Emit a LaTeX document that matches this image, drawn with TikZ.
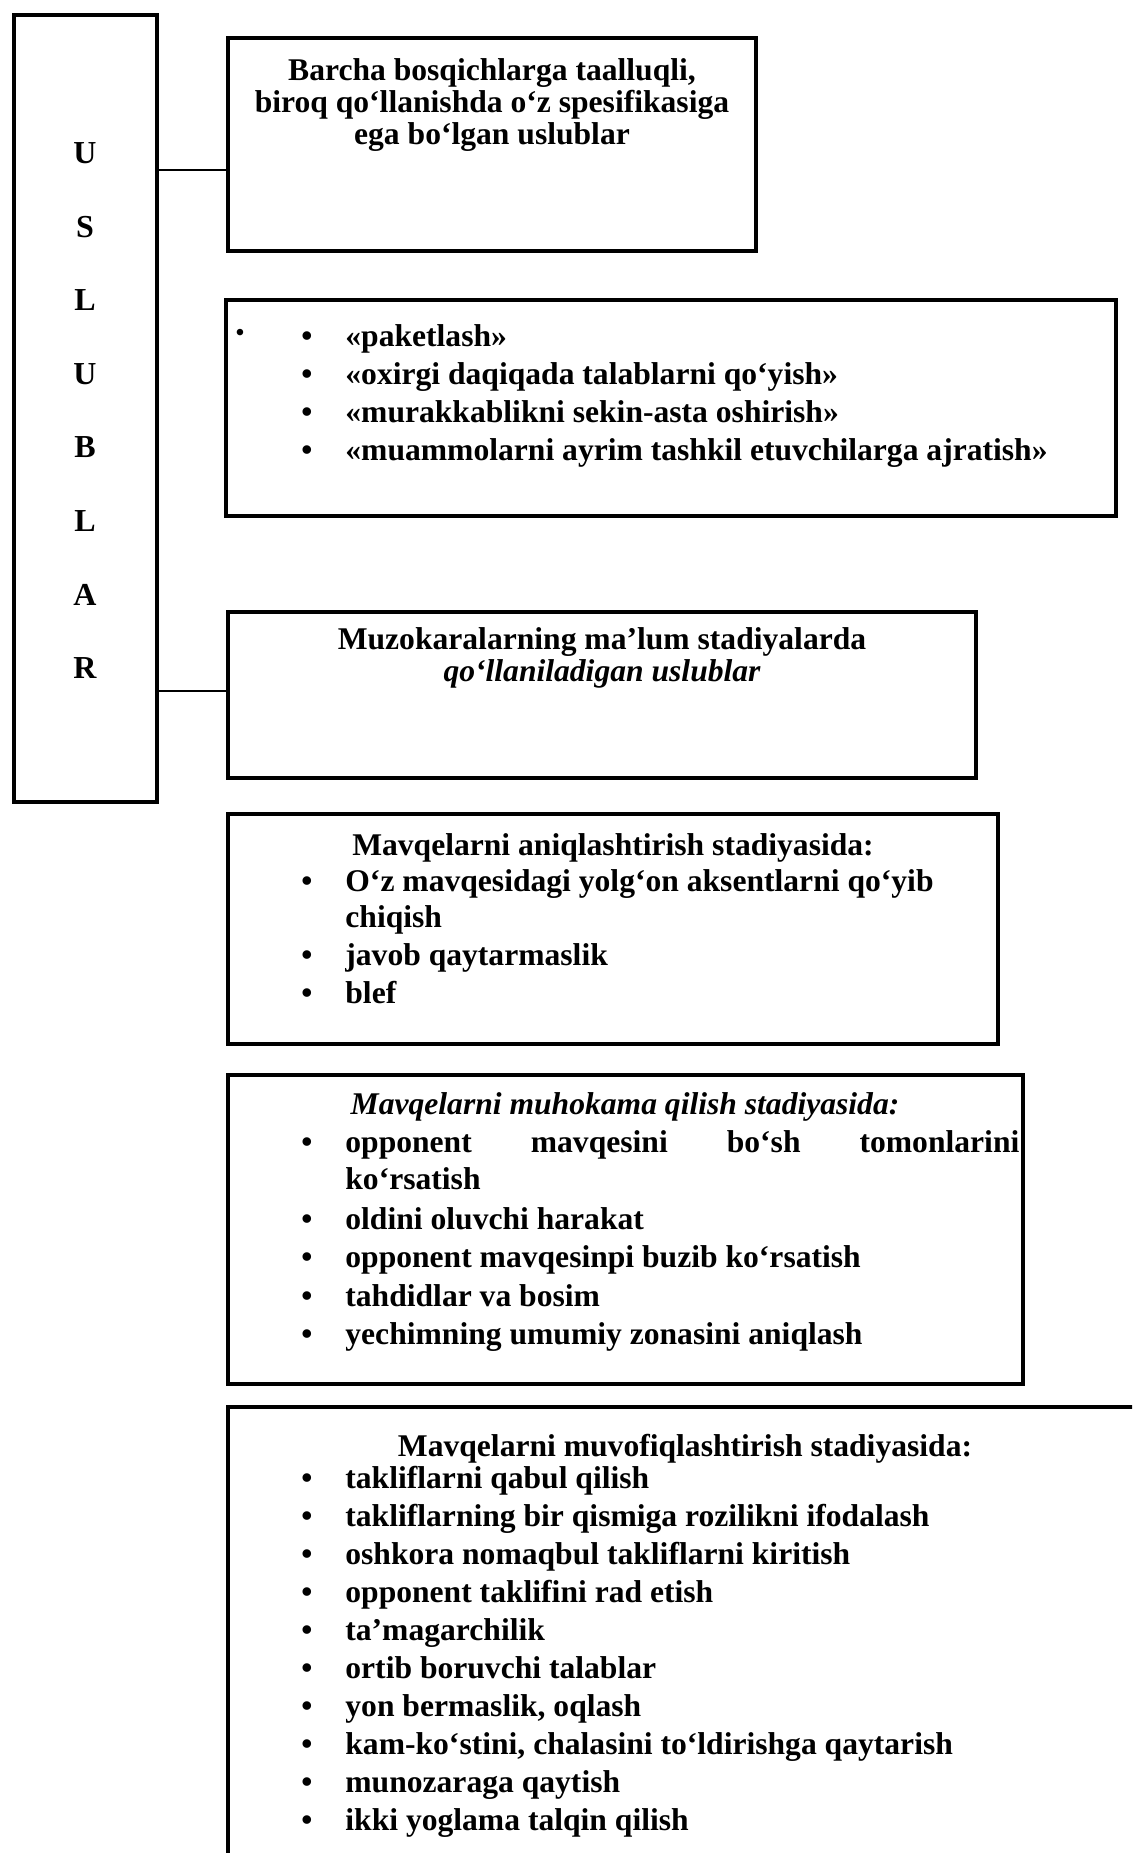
\documentclass[tikz,border=0pt]{standalone}
\usepackage{fontspec}
\setmainfont{Liberation Serif}
\usetikzlibrary{fit}

% rectangle frame spanned by two corners, given in pixel units
\newcommand\mkframe[5]{%
  \path (#2,#3) coordinate (#1nw) (#4,#5) coordinate (#1se);
  \node[frame, fit=(#1nw)(#1se)] (#1) {};}

\begin{document}
\begin{tikzpicture}[x=0.5pt,y=-0.5pt,
  frame/.style={draw, line width=1.6pt, inner sep=0pt},
  conn/.style={line width=1.4pt},
  txt/.style={font=\fontsize{15.8}{18}\selectfont\bfseries, inner sep=0pt},
  ctr/.style={txt, anchor=base},
  item/.style={txt, anchor=base west},
  bul/.style={txt, anchor=base},
  ltr/.style={font=\fontsize{16}{18}\selectfont\bfseries, inner sep=0pt}]

\useasboundingbox (0,0) rectangle (1132,1853);
\fill[white] (0,0) rectangle (1132,1853);
\clip (0,0) rectangle (1132,1853);

% vertical title box
\mkframe{L}{14}{15}{157}{802}
\foreach \ch [count=\i from 0] in {U,S,L,U,B,L,A,R}
  \node[ltr] (ch\i) at (85,{153+73.6*\i}) {\ch};

% first group
\mkframe{ba}{228}{38}{756}{251}
\node[ctr] (ba1) at (492,80)  {Barcha bosqichlarga taalluqli,};
\node[ctr] (ba2) at (492,112) {biroq qo‘llanishda o‘z spesifikasiga};
\node[ctr] (ba3) at (492,144) {ega bo‘lgan uslublar};

\mkframe{bb}{226}{300}{1116}{516}
\node[txt, font=\fontsize{12}{12}\selectfont\bfseries, anchor=base] (bbd) at (240,340) {•};
\foreach \t [count=\i from 0] in {%
  «paketlash»,
  «oxirgi daqiqada talablarni qo‘yish»,
  «murakkablikni sekin-asta oshirish»,
  «muammolarni ayrim tashkil etuvchilarga ajratish»}{
  \node[bul]  (bbb\i) at (307,{346+38*\i}) {•};
  \node[item] (bbi\i) at (345,{346+38*\i}) {\t};
}

% second group
\mkframe{bc}{228}{612}{976}{778}
\node[ctr] (bc1) at (602,649) {Muzokaralarning ma’lum stadiyalarda};
\node[ctr] (bc2) at (602,681) {\itshape qo‘llaniladigan uslublar};

\mkframe{bd}{228}{814}{998}{1044}
\node[ctr]  (bdt)  at (613,855) {Mavqelarni aniqlashtirish stadiyasida:};
\node[bul]  (bdb1) at (307,891) {•};
\node[item] (bdi1) at (345,891) {O‘z mavqesidagi yolg‘on aksentlarni qo‘yib};
\node[item] (bdi1b) at (345,927) {chiqish};
\node[bul]  (bdb2) at (307,965) {•};
\node[item] (bdi2) at (345,965) {javob qaytarmaslik};
\node[bul]  (bdb3) at (307,1003) {•};
\node[item] (bdi3) at (345,1003) {blef};

\mkframe{be}{228}{1075}{1023}{1384}
\node[ctr]  (bet)  at (625,1114) {\itshape Mavqelarni muhokama qilish stadiyasida:};
\node[bul]  (beb1) at (307,1152) {•};
\node[item] (bei1) at (345,1152)
  {\hbox to 337pt{opponent\hfill mavqesini\hfill bo‘sh\hfill tomonlarini}};
\node[item] (bei1b) at (345,1189) {ko‘rsatish};
\foreach \t [count=\i from 2] in {%
  oldini oluvchi harakat,
  opponent mavqesinpi buzib ko‘rsatish,
  tahdidlar va bosim,
  yechimning umumiy zonasini aniqlash}{
  \node[bul]  (beb\i) at (307,{1229+38.5*(\i-2)}) {•};
  \node[item] (bei\i) at (345,{1229+38.5*(\i-2)}) {\t};
}

\mkframe{bf}{228}{1407}{1200}{1900}
\node[ctr] (bft) at (685,1456) {Mavqelarni muvofiqlashtirish stadiyasida:};
\foreach \t [count=\i from 0] in {%
  takliflarni qabul qilish,
  takliflarning bir qismiga rozilikni ifodalash,
  oshkora nomaqbul takliflarni kiritish,
  opponent taklifini rad etish,
  ta’magarchilik,
  ortib boruvchi talablar,
  {yon bermaslik, oqlash},
  {kam-ko‘stini, chalasini to‘ldirishga qaytarish},
  munozaraga qaytish,
  ikki yoglama talqin qilish}{
  \node[bul]  (bfb\i) at (307,{1488+38.1*\i}) {•};
  \node[item] (bfi\i) at (345,{1488+38.1*\i}) {\t};
}

% connectors from the title box
\coordinate (y1) at (0,170);
\coordinate (y2) at (0,691);
\draw[conn] (L.east |- y1) -- (ba.west |- y1);
\draw[conn] (L.east |- y2) -- (bc.west |- y2);
\end{tikzpicture}
\end{document}
